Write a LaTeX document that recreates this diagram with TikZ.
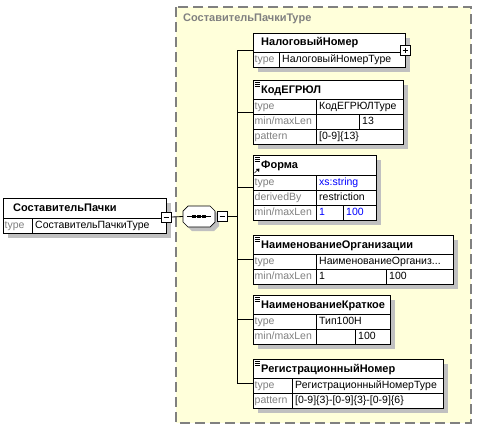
\documentclass[tikz,border=0pt]{standalone}
\usepackage{fontspec}
\setmainfont{Liberation Sans}
\definecolor{bgyellow}{HTML}{FFFFDA}
\definecolor{shadowgray}{HTML}{C0C0C0}
\definecolor{framegray}{HTML}{808080}
\definecolor{labelgray}{HTML}{808080}
\definecolor{typeblue}{HTML}{0000FF}

\begin{document}
\begin{tikzpicture}[x=1pt,y=-1pt,line join=miter,
  frame/.style={draw=black,line width=0.7pt,fill=white},
  shadow/.style={fill=shadowgray},
  rule/.style={line width=0.6pt},
  wire/.style={line width=0.8pt},
  title/.style={anchor=west,inner sep=0pt,text height=8pt,text depth=2pt,font=\bfseries\fontsize{11}{13}\selectfont},
  lbl/.style={anchor=west,inner sep=0pt,text height=7.5pt,text depth=2pt,text=labelgray,font=\fontsize{10.5}{12}\selectfont},
  val/.style={lbl,text=black},
  blueval/.style={lbl,text=typeblue},
  icon/.style={line width=0.6pt}]
  \useasboundingbox (0,0) rectangle (489,429);
  % complex type area
  \fill[bgyellow] (176,7) rectangle (471,423);
  \draw[framegray,line width=1.4pt,dash pattern=on 10pt off 5pt] (176,7) rectangle (471,423);
  \node[title,text=framegray] (ctype) at (183,18) {СоставительПачкиType};

  % root element
  \begin{scope}[shift={(3,198)}]
    \fill[shadow] (5,5) rectangle (168,40);
    \draw[frame] (0,0) rectangle (163,35);
    \draw[rule] (0,20) -- (163,20);
    \draw[rule] (29,20) -- (29,35);
    \node[title] (root) at (10,10) {СоставительПачки};
    \node[lbl] at (1.5,27.5) {type};
    \node[val] at (32,27.5) {СоставительПачкиType};
    \draw[frame] (158,14) rectangle (168,24);
    \draw[rule] (160.5,19) -- (165.5,19);
    \coordinate (root-out) at (168,19);
  \end{scope}

  % sequence
  \begin{scope}[shift={(183,206)}]
    \fill[shadow] (9,4) -- (31,4) -- (36,9) -- (36,20) -- (31,25) -- (9,25) -- (4,20) -- (4,9) -- cycle;
    \draw[frame] (5,0) -- (27,0) -- (32,5) -- (32,16) -- (27,21) -- (5,21) -- (0,16) -- (0,5) -- cycle;
    \draw[rule] (4,10.5) -- (28,10.5);
    \foreach \x in {11,16,21}
      \fill (\x-1.8,9) rectangle (\x+1.8,12);
    \draw[frame] (34,5.5) rectangle (44,15.5);
    \draw[rule] (36.5,10.5) -- (41.5,10.5);
    \coordinate (seq-in) at (0,10.5);
    \coordinate (seq-out) at (44,10.5);
  \end{scope}
  \draw[wire] (root-out) -- (seq-in);
  \draw[wire] (seq-out) -- ++(10,0) coordinate (bus);

  % НалоговыйНомер
  \begin{scope}[shift={(253,33)}]
    \fill[shadow] (5,5) rectangle (157,39);
    \draw[frame] (0,0) rectangle (152,34);
    \draw[rule] (0,19) -- (152,19);
    \draw[rule] (26,19) -- (26,34);
    \node[title] (nalog) at (8,9.5) {НалоговыйНомер};
    \node[lbl] at (1.5,26.5) {type};
    \node[val] at (29,26.5) {НалоговыйНомерType};
    \draw[frame] (147,12) rectangle (157,22);
    \draw[rule] (149.5,17) -- (154.5,17) (152,14.5) -- (152,19.5);
    \coordinate (nalog-in) at (0,17);
  \end{scope}

  % КодЕГРЮЛ
  \begin{scope}[shift={(253,80)}]
    \fill[shadow] (5,5) rectangle (155,69);
    \draw[frame] (0,0) rectangle (150,64);
    \draw[rule] (0,19) -- (150,19) (0,34) -- (150,34) (0,49) -- (150,49);
    \draw[rule] (63,19) -- (63,64) (106,34) -- (106,49);
    \draw[icon] (1.5,2) -- (7,2) (1.5,4) -- (7,4) (1.5,6) -- (7,6);
    \node[title] (kod) at (8,10) {КодЕГРЮЛ};
    \node[lbl] at (1.5,26.5) {type};
    \node[val] at (66,26.5) {КодЕГРЮЛType};
    \node[lbl] at (1.5,41.5) {min/maxLen};
    \node[val] at (109,41.5) {13};
    \node[lbl] at (1.5,56.5) {pattern};
    \node[val] at (66,56.5) {[0-9]\{13\}};
    \coordinate (kod-in) at (0,32);
  \end{scope}

  % Форма
  \begin{scope}[shift={(253,155)}]
    \fill[shadow] (5,5) rectangle (128,70);
    \draw[frame] (0,0) rectangle (123,65);
    \draw[rule] (0,20) -- (123,20) (0,35) -- (123,35) (0,50) -- (123,50);
    \draw[rule] (63,20) -- (63,65) (90,50) -- (90,65);
    \draw[icon] (1.5,2) -- (7,2) (1.5,4) -- (7,4) (1.5,6) -- (7,6);
    \draw[icon] (1.5,18) -- (4.5,15);
    \fill (3,14) -- (6.5,13.5) -- (6,17) -- cycle;
    \node[title] (forma) at (8,10.5) {Форма};
    \node[lbl] at (1.5,27.5) {type};
    \node[blueval] at (66,27.5) {xs:string};
    \node[lbl] at (1.5,42.5) {derivedBy};
    \node[val] at (66,42.5) {restriction};
    \node[lbl] at (1.5,57.5) {min/maxLen};
    \node[blueval] at (66,57.5) {1};
    \node[blueval] at (93,57.5) {100};
    \coordinate (forma-in) at (0,32.5);
  \end{scope}

  % НаименованиеОрганизации
  \begin{scope}[shift={(253,235)}]
    \fill[shadow] (5,5) rectangle (205,54);
    \draw[frame] (0,0) rectangle (200,49);
    \draw[rule] (0,19) -- (200,19) (0,34) -- (200,34);
    \draw[rule] (63,19) -- (63,49) (133,34) -- (133,49);
    \draw[icon] (1.5,2) -- (7,2) (1.5,4) -- (7,4) (1.5,6) -- (7,6);
    \node[title] (orgname) at (8,10) {НаименованиеОрганизации};
    \node[lbl] at (1.5,26.5) {type};
    \node[val] at (66,26.5) {НаименованиеОрганиз...};
    \node[lbl] at (1.5,41.5) {min/maxLen};
    \node[val] at (66,41.5) {1};
    \node[val] at (136,41.5) {100};
    \coordinate (orgname-in) at (0,24.5);
  \end{scope}

  % НаименованиеКраткое
  \begin{scope}[shift={(253,295)}]
    \fill[shadow] (5,5) rectangle (142,54);
    \draw[frame] (0,0) rectangle (137,49);
    \draw[rule] (0,19) -- (137,19) (0,34) -- (137,34);
    \draw[rule] (63,19) -- (63,49) (102,34) -- (102,49);
    \draw[icon] (1.5,2) -- (7,2) (1.5,4) -- (7,4) (1.5,6) -- (7,6);
    \node[title] (short) at (8,10) {НаименованиеКраткое};
    \node[lbl] at (1.5,26.5) {type};
    \node[val] at (66,26.5) {Тип100Н};
    \node[lbl] at (1.5,41.5) {min/maxLen};
    \node[val] at (105,41.5) {100};
    \coordinate (short-in) at (0,24.5);
  \end{scope}

  % РегистрационныйНомер
  \begin{scope}[shift={(253,359)}]
    \fill[shadow] (5,5) rectangle (195,54);
    \draw[frame] (0,0) rectangle (190,49);
    \draw[rule] (0,19) -- (190,19) (0,34) -- (190,34);
    \draw[rule] (39,19) -- (39,49);
    \draw[icon] (1.5,2) -- (7,2) (1.5,4) -- (7,4) (1.5,6) -- (7,6);
    \node[title] (regnum) at (8,10) {РегистрационныйНомер};
    \node[lbl] at (1.5,26.5) {type};
    \node[val] at (42,26.5) {РегистрационныйНомерType};
    \node[lbl] at (1.5,41.5) {pattern};
    \node[val] at (42,41.5) {[0-9]\{3\}-[0-9]\{3\}-[0-9]\{6\}};
    \coordinate (regnum-in) at (0,24.5);
  \end{scope}

  \foreach \c in {nalog-in,kod-in,forma-in,orgname-in,short-in,regnum-in}
    \draw[wire] (bus) |- (\c);
\end{tikzpicture}
\end{document}
